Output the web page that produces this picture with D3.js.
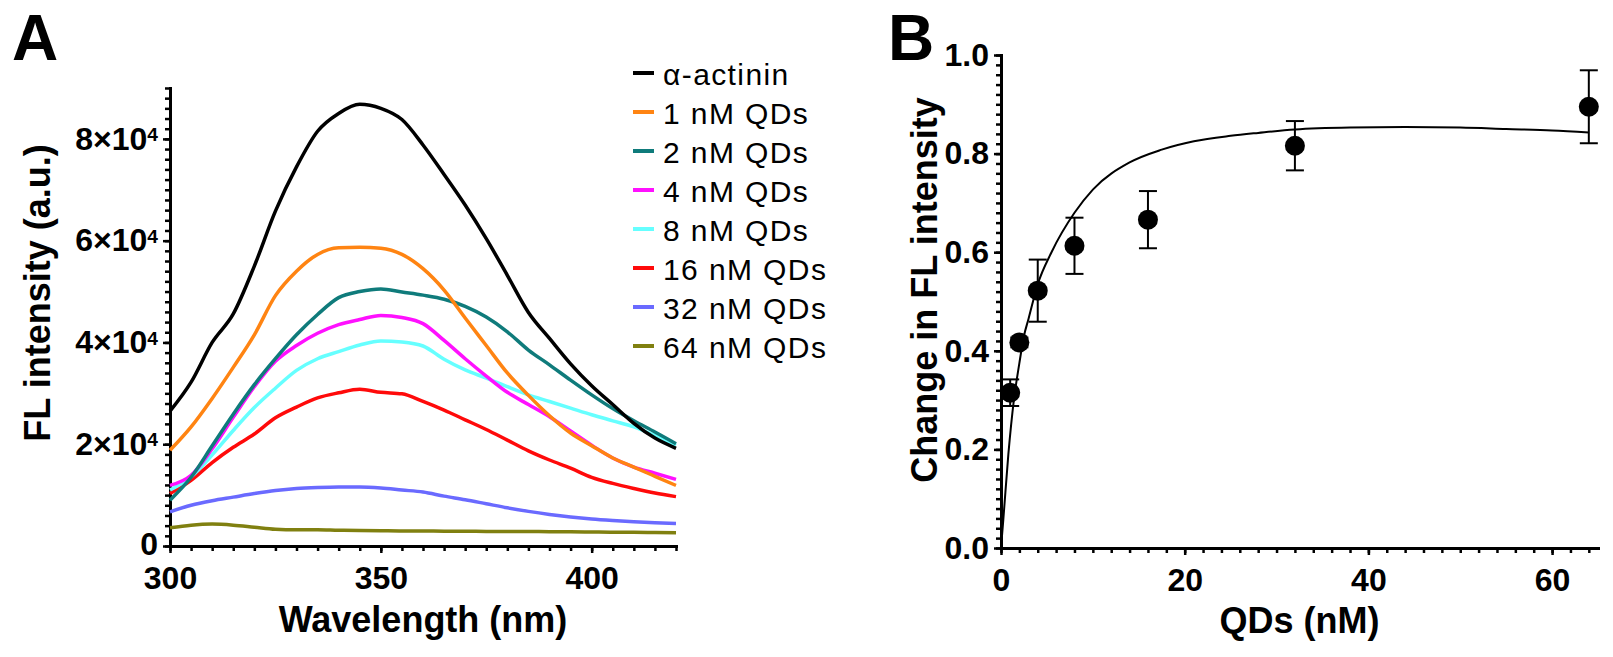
<!DOCTYPE html>
<html>
<head>
<meta charset="utf-8">
<title>FL intensity vs QDs</title>
<script src="https://cdn.jsdelivr.net/npm/d3@7"></script>
<style>
  body { margin: 0; background: #fff; }
  text { font-family: "Liberation Sans", Arial, Helvetica, sans-serif; }
</style>
</head>
<body>
<div id="canvas"></div>
<script>
"use strict"

/* Data: panel A, emission spectra (every 5 nm) */
let wavelengths = [300, 305, 310, 315, 320, 325, 330, 335, 340, 345, 350, 355, 360,
                   365, 370, 375, 380, 385, 390, 395, 400, 405, 410, 415, 420];

let actinin = [26500, 32200, 40000, 45600, 55000, 65800, 74500, 81500, 85000, 86800, 86000, 83800, 78800,
               73000, 67000, 60400, 53200, 45900, 40800, 35800, 31500, 27800, 24100, 21200, 19200];
let qd1  = [18800, 23400, 29000, 35100, 41500, 49200, 54000, 57300, 58600, 58700, 58500, 57300, 54500,
            50300, 44800, 39400, 34000, 29600, 25600, 22200, 19700, 17300, 15500, 13700, 11900];
let qd2  = [9000, 13500, 19700, 25900, 31700, 36800, 41500, 45500, 48800, 50000, 50500, 49900, 49300,
            48500, 47100, 45000, 42100, 38500, 35600, 32600, 29700, 27000, 24600, 22400, 20100];
let qd4  = [11900, 13900, 19100, 25300, 31300, 36300, 39400, 41800, 43500, 44500, 45300, 44900, 43700,
            40400, 36800, 33400, 30200, 27800, 25400, 22600, 19800, 17300, 15500, 14300, 13100];
let qd8  = [11000, 13600, 17900, 22700, 27200, 31000, 34500, 36800, 38200, 39500, 40300, 40100, 39300,
            36700, 34600, 33000, 31300, 29700, 28400, 27100, 25800, 24600, 23400, 21700, 19800];
let qd16 = [10300, 12900, 16400, 19400, 22000, 25200, 27300, 29100, 30100, 30800, 30200, 29900, 28400,
            26700, 24800, 22900, 20800, 18700, 16900, 15300, 13500, 12300, 11300, 10400, 9700];
let qd32 = [6700, 8000, 8900, 9600, 10300, 10900, 11300, 11500, 11600, 11600, 11400, 11000, 10600,
            9800, 9100, 8300, 7500, 6800, 6200, 5700, 5300, 5000, 4750, 4550, 4400];
let qd64 = [3600, 4100, 4300, 4100, 3700, 3300, 3200, 3200, 3100, 3050, 3000, 2950, 2950,
            2900, 2900, 2850, 2850, 2850, 2800, 2800, 2750, 2700, 2700, 2650, 2600];

let seriesNames = ["α-actinin", "1 nM QDs", "2 nM QDs", "4 nM QDs",
                   "8 nM QDs", "16 nM QDs", "32 nM QDs", "64 nM QDs"];
let seriesValues = [actinin, qd1, qd2, qd4, qd8, qd16, qd32, qd64];

/* Data: panel B, change in FL intensity */
let qdConc = [1, 2, 4, 8, 16, 32, 64];
let changeMean = [0.315, 0.417, 0.522, 0.613, 0.666, 0.816, 0.895];
let changeErr = [0.027, 0.01, 0.063, 0.057, 0.058, 0.05, 0.074];

/* fitted curve */
let fitX = [0, 0.25, 0.8, 1.4, 2, 2.5, 3, 4, 5.5, 8, 10, 14, 17.5, 21, 25, 28, 32, 38, 44, 50, 55, 60, 64];
let fitY = [0, 0.057, 0.19, 0.30, 0.375, 0.43, 0.465, 0.535, 0.60, 0.68, 0.727, 0.782, 0.808, 0.825,
            0.836, 0.842, 0.849, 0.853, 0.854, 0.853, 0.850, 0.847, 0.843];

/* Tick labels */
let xTicksA = [300, 350, 400];
let yTicksA = [0, 20000, 40000, 60000, 80000];
let xTicksB = [0, 20, 40, 60];
let yTicksB = [0, 0.2, 0.4, 0.6, 0.8, 1.0];

/* Drawing configuration */
let svgWidth = 1613;
let svgHeight = 657;
let seriesColors = ["#000000", "#ff8412", "#0f7b7b", "#ff10ff", "#66ffff", "#ff0a0a", "#6a6aff", "#808010"];
let tickFont = 32;
let titleFont = 36;

let svg = d3.select("#canvas")
    .append("svg")
    .attr("width", svgWidth)
    .attr("height", svgHeight);

/* Scales */
let xA = d3.scaleLinear().domain([300, 420]).range([170, 676]);
let yA = d3.scaleLinear().domain([0, 90000]).range([546, 88]);
let xB = d3.scaleLinear().domain([0, 65]).range([1001, 1598]);
let yB = d3.scaleLinear().domain([0, 1]).range([548, 55]);

/* Helper: style an axis group */
function styleAxis(g, withText) {
    g.select(".domain").attr("stroke-width", 3).attr("stroke-linecap", "square");
    g.selectAll(".tick line").attr("stroke-width", 2.5);
    if (withText) {
        g.selectAll(".tick text")
            .attr("font-size", tickFont)
            .attr("font-weight", "bold")
            .attr("fill", "#000");
    }
}

/**** Panel A axes ****/
let gAxMinor = svg.append("g")
    .attr("transform", "translate(0," + yA(0) + ")")
    .call(d3.axisBottom(xA).tickValues(xA.ticks(24)).tickSize(5).tickSizeOuter(0).tickFormat(""));
styleAxis(gAxMinor, false);

let gAx = svg.append("g")
    .attr("transform", "translate(0," + yA(0) + ")")
    .call(d3.axisBottom(xA).tickValues(xTicksA).tickSize(7).tickSizeOuter(0).tickPadding(13));
styleAxis(gAx, true);

let gAyMinor = svg.append("g")
    .attr("transform", "translate(" + xA(300) + ",0)")
    .call(d3.axisLeft(yA).tickValues(yA.ticks(45)).tickSize(5).tickSizeOuter(0).tickFormat(""));
styleAxis(gAyMinor, false);

let gAy = svg.append("g")
    .attr("transform", "translate(" + xA(300) + ",0)")
    .call(d3.axisLeft(yA).tickValues(yTicksA).tickSize(7).tickSizeOuter(0).tickPadding(5));
styleAxis(gAy, true);

/* labels like 8×10^4 with a superscript exponent */
gAy.selectAll(".tick text").each(function (d) {
    let t = d3.select(this);
    if (d === 0) { t.text("0").attr("dy", "0.26em"); return; }
    t.text(d / 10000 + "×10");
    t.append("tspan").attr("dy", "-0.45em").attr("font-size", "0.6em").text("4");
});

/**** Panel A curves (drawn last series first, so α-actinin is on top) ****/
let lineA = d3.line()
    .x(function (d, i) { return xA(wavelengths[i]); })
    .y(function (d) { return yA(d); })
    .curve(d3.curveMonotoneX);

for (let s = seriesValues.length - 1; s >= 0; s--) {
    svg.append("path")
        .datum(seriesValues[s])
        .attr("fill", "none")
        .attr("stroke", seriesColors[s])
        .attr("stroke-width", 3.5)
        .attr("stroke-linejoin", "round")
        .attr("d", lineA);
}

/**** Panel A legend ****/
let legendX = 633;
let legendY = 73;
let legendSpacing = 39;

seriesNames.forEach(function (name, i) {
    svg.append("line")
        .attr("x1", legendX)
        .attr("x2", legendX + 21)
        .attr("y1", legendY + legendSpacing * i)
        .attr("y2", legendY + legendSpacing * i)
        .attr("stroke", seriesColors[i])
        .attr("stroke-width", 4);
    svg.append("text")
        .attr("x", legendX + 30)
        .attr("y", legendY + legendSpacing * i + 1)
        .attr("dy", "0.35em")
        .attr("font-size", 30)
        .attr("letter-spacing", 1.4)
        .text(name);
});

/**** Panel A titles ****/
svg.append("text")
    .attr("x", (xA(300) + xA(420)) / 2)
    .attr("y", 632)
    .attr("text-anchor", "middle")
    .attr("font-size", titleFont)
    .attr("font-weight", "bold")
    .text("Wavelength (nm)");

svg.append("text")
    .attr("transform", "translate(50,293) rotate(-90)")
    .attr("text-anchor", "middle")
    .attr("font-size", titleFont)
    .attr("font-weight", "bold")
    .text("FL intensity (a.u.)");

svg.append("text")
    .attr("x", 12)
    .attr("y", 60)
    .attr("font-size", 64)
    .attr("font-weight", "bold")
    .text("A");

/**** Panel B axes ****/
let gBxMinor = svg.append("g")
    .attr("transform", "translate(0," + yB(0) + ")")
    .call(d3.axisBottom(xB).tickValues(d3.range(0, 65, 2)).tickSize(5).tickSizeOuter(0).tickFormat(""));
styleAxis(gBxMinor, false);

let gBx = svg.append("g")
    .attr("transform", "translate(0," + yB(0) + ")")
    .call(d3.axisBottom(xB).tickValues(xTicksB).tickSize(7).tickSizeOuter(0).tickPadding(13));
styleAxis(gBx, true);

let gByMinor = svg.append("g")
    .attr("transform", "translate(" + xB(0) + ",0)")
    .call(d3.axisLeft(yB).tickValues(yB.ticks(50)).tickSize(5).tickSizeOuter(0).tickFormat(""));
styleAxis(gByMinor, false);

let gBy = svg.append("g")
    .attr("transform", "translate(" + xB(0) + ",0)")
    .call(d3.axisLeft(yB).tickValues(yTicksB).tickSize(7).tickSizeOuter(0).tickPadding(5)
        .tickFormat(d3.format(".1f")));
styleAxis(gBy, true);

/**** Panel B fit curve ****/
let lineB = d3.line()
    .x(function (d, i) { return xB(fitX[i]); })
    .y(function (d) { return yB(d); })
    .curve(d3.curveMonotoneX);

svg.append("path")
    .datum(fitY)
    .attr("fill", "none")
    .attr("stroke", "#000")
    .attr("stroke-width", 2)
    .attr("d", lineB);

/**** Panel B error bars and points ****/
let capHalf = 9;
qdConc.forEach(function (c, i) {
    let top = yB(changeMean[i] + changeErr[i]);
    let bottom = yB(changeMean[i] - changeErr[i]);
    let g = svg.append("g").attr("stroke", "#000").attr("stroke-width", 2);
    g.append("line").attr("x1", xB(c)).attr("x2", xB(c)).attr("y1", top).attr("y2", bottom);
    g.append("line").attr("x1", xB(c) - capHalf).attr("x2", xB(c) + capHalf).attr("y1", top).attr("y2", top);
    g.append("line").attr("x1", xB(c) - capHalf).attr("x2", xB(c) + capHalf).attr("y1", bottom).attr("y2", bottom);
});

svg.selectAll("circle.pt")
    .data(qdConc)
    .join("circle")
    .attr("class", "pt")
    .attr("cx", function (d) { return xB(d); })
    .attr("cy", function (d, i) { return yB(changeMean[i]); })
    .attr("r", 10)
    .attr("fill", "#000");

/**** Panel B titles ****/
svg.append("text")
    .attr("x", (xB(0) + xB(65)) / 2)
    .attr("y", 633)
    .attr("text-anchor", "middle")
    .attr("font-size", titleFont)
    .attr("font-weight", "bold")
    .text("QDs (nM)");

svg.append("text")
    .attr("transform", "translate(937,290) rotate(-90)")
    .attr("text-anchor", "middle")
    .attr("font-size", titleFont)
    .attr("font-weight", "bold")
    .text("Change in FL intensity");

svg.append("text")
    .attr("x", 888)
    .attr("y", 60)
    .attr("font-size", 64)
    .attr("font-weight", "bold")
    .text("B");
</script>
</body>
</html>
